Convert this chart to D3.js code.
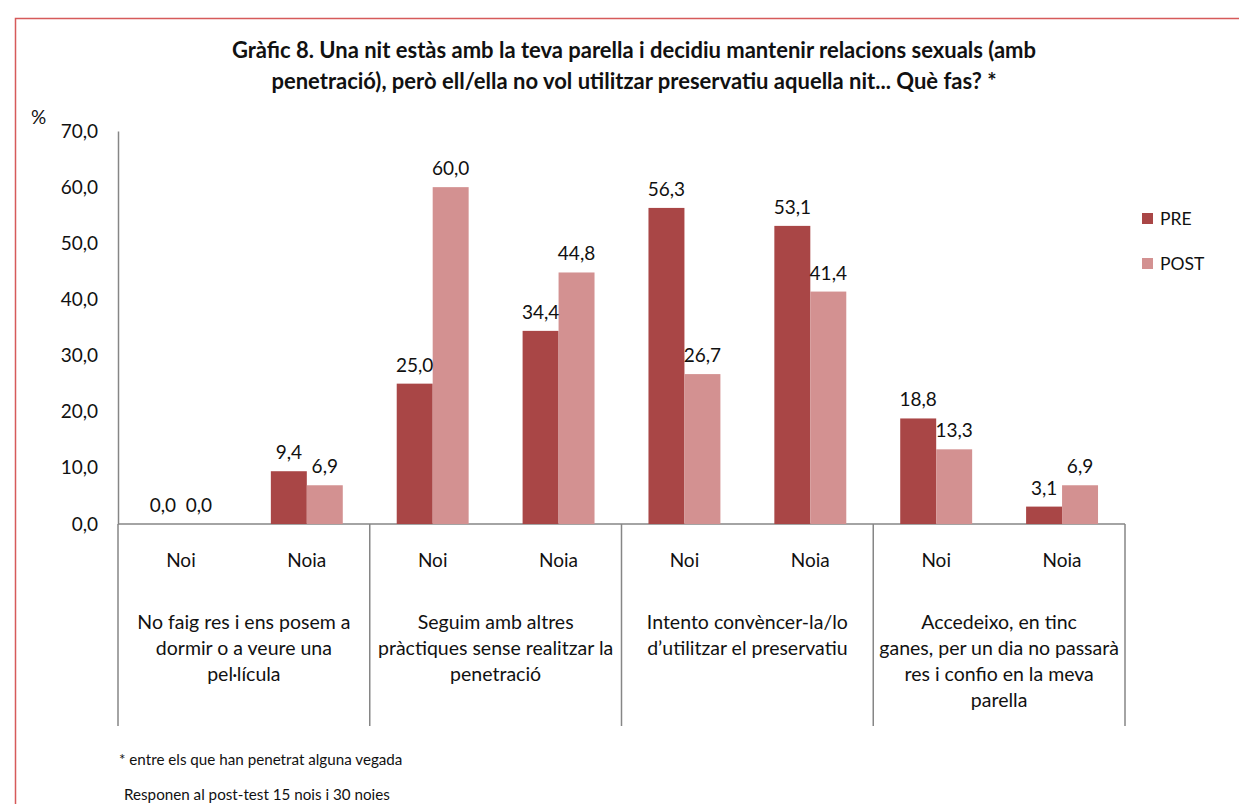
<!DOCTYPE html>
<html>
<head>
<meta charset="utf-8">
<script src="https://cdn.jsdelivr.net/npm/d3@7"></script>
<style>
	body { margin: 0; background: #fff; }
	svg text { font-family: Lato, "Open Sans", sans-serif; fill: #111; }
</style>
</head>
<body>
<div class="chart"></div>
<script>
// data
const groups = ["Noi", "Noia", "Noi", "Noia", "Noi", "Noia", "Noi", "Noia"];
const series = ["PRE", "POST"];
const preValues = [0.0, 9.4, 25.0, 34.4, 56.3, 53.1, 18.8, 3.1];
const postValues = [0.0, 6.9, 60.0, 44.8, 26.7, 41.4, 13.3, 6.9];
const categoryLines = [
	["No faig res i ens posem a", "dormir o a veure una", "pel·lícula"],
	["Seguim amb altres", "pràctiques sense realitzar la", "penetració"],
	["Intento convèncer-la/lo", "d’utilitzar  el preservatiu"],
	["Accedeixo, en tinc", "ganes, per un dia no passarà", "res i confio en la meva", "parella"]
];
const yTicks = [0, 10, 20, 30, 40, 50, 60, 70];
const titleLines = [
	"Gràfic 8. Una nit estàs amb la teva parella i decidiu mantenir relacions sexuals (amb",
	"penetració), però ell/ella no vol utilitzar preservatiu aquella nit... Què fas? *"
];
const notes = ["* entre els que han penetrat alguna vegada", "Responen al post-test 15 nois i 30 noies"];

const colors = { PRE: "#a94646", POST: "#d39191" };

var w = 1239,
	h = 804,
	plotLeft = 118,
	plotRight = 1125,
	plotTop = 131,
	base = 524;

const svg = d3.select(".chart").append("svg").attr("width", w).attr("height", h);

// outer red frame (runs off the right and bottom edges)
svg.append("rect")
	.attr("x", 15.5).attr("y", 18.5)
	.attr("width", 1240).attr("height", 820)
	.attr("fill", "none")
	.attr("stroke", "#d65a5a")
	.attr("stroke-width", 1.5);

// title
svg.selectAll(".title")
	.data(titleLines)
	.enter()
	.append("text")
	.attr("class", "title")
	.attr("x", 634)
	.attr("y", (d, i) => 58 + i * 31)
	.attr("text-anchor", "middle")
	.style("font-weight", "bold")
	.style("font-size", "22px")
	.text((d) => d);

const idx = d3.range(groups.length);
const x0 = d3.scaleBand().domain(idx).range([plotLeft, plotRight]).padding(0);
const x1 = d3.scaleBand().domain(series).range([0, x0.bandwidth()]).paddingInner(0).paddingOuter(0.75);
const y = d3.scaleLinear().domain([0, 70]).range([base, plotTop]);

const fmt = (v) => d3.format(".1f")(v).replace(".", ",");

// y axis
const yAxis = d3.axisLeft(y).tickValues(yTicks).tickSize(0).tickPadding(20).tickFormat(fmt);
const gy = svg.append("g").attr("id", "y-axis").attr("transform", "translate(" + plotLeft + ",0)").call(yAxis);
gy.select(".domain").attr("stroke", "#868686").attr("stroke-width", 1.5);
gy.selectAll("text").style("font-size", "19px").style("font-family", "Lato, sans-serif").attr("fill", "#111");

svg.append("text").attr("x", 31).attr("y", 124).style("font-size", "19px").text("%");

// baseline and group dividers
svg.append("line")
	.attr("x1", plotLeft).attr("x2", plotRight)
	.attr("y1", base).attr("y2", base)
	.attr("stroke", "#868686").attr("stroke-width", 1.5);

svg.selectAll(".divider")
	.data([0, 2, 4, 6, 8])
	.enter()
	.append("line")
	.attr("class", "divider")
	.attr("x1", (d) => (d < 8 ? x0(d) : x0(7) + x0.bandwidth()))
	.attr("x2", (d) => (d < 8 ? x0(d) : x0(7) + x0.bandwidth()))
	.attr("y1", base).attr("y2", 726)
	.attr("stroke", "#868686").attr("stroke-width", 1.5);

// bars
const rows = [];
idx.forEach((i) => {
	rows.push({ i: i, s: "PRE", v: preValues[i] });
	rows.push({ i: i, s: "POST", v: postValues[i] });
});

svg.selectAll(".bar")
	.data(rows)
	.enter()
	.append("rect")
	.attr("class", "bar")
	.attr("x", (d) => x0(d.i) + x1(d.s))
	.attr("y", (d) => y(d.v))
	.attr("width", x1.bandwidth())
	.attr("height", (d) => base - y(d.v))
	.attr("fill", (d) => colors[d.s]);

svg.selectAll(".lbl")
	.data(rows)
	.enter()
	.append("text")
	.attr("class", "lbl")
	.attr("x", (d) => x0(d.i) + x1(d.s) + x1.bandwidth() / 2)
	.attr("y", (d) => y(d.v) - 12)
	.attr("text-anchor", "middle")
	.style("font-size", "19px")
	.text((d) => fmt(d.v));

// sub-category labels
svg.selectAll(".sub")
	.data(idx)
	.enter()
	.append("text")
	.attr("class", "sub")
	.attr("x", (d) => x0(d) + x0.bandwidth() / 2)
	.attr("y", 567)
	.attr("text-anchor", "middle")
	.style("font-size", "19px")
	.text((d) => groups[d]);

// category labels
categoryLines.forEach((lines, c) => {
	svg.append("text")
		.attr("x", x0(c * 2) + x0.bandwidth())
		.attr("y", 629)
		.attr("text-anchor", "middle")
		.style("font-size", "19.5px")
		.selectAll("tspan")
		.data(lines)
		.enter()
		.append("tspan")
		.attr("x", x0(c * 2) + x0.bandwidth())
		.attr("dy", (d, i) => (i === 0 ? 0 : 26))
		.text((d) => d);
});

// legend
const lg = svg.selectAll(".legend")
	.data(series)
	.enter()
	.append("g")
	.attr("class", "legend")
	.attr("transform", (d, i) => "translate(1142," + (213 + i * 45) + ")");
lg.append("rect").attr("width", 11).attr("height", 11).attr("fill", (d) => colors[d]);
lg.append("text").attr("x", 18).attr("y", 12).style("font-size", "17.5px").text((d) => d);

// notes
svg.selectAll(".note")
	.data(notes)
	.enter()
	.append("text")
	.attr("class", "note")
	.attr("x", (d, i) => 119 + i * 5)
	.attr("y", (d, i) => 765 + i * 35)
	.style("font-size", "15.2px")
	.text((d) => d);
</script>
</body>
</html>
